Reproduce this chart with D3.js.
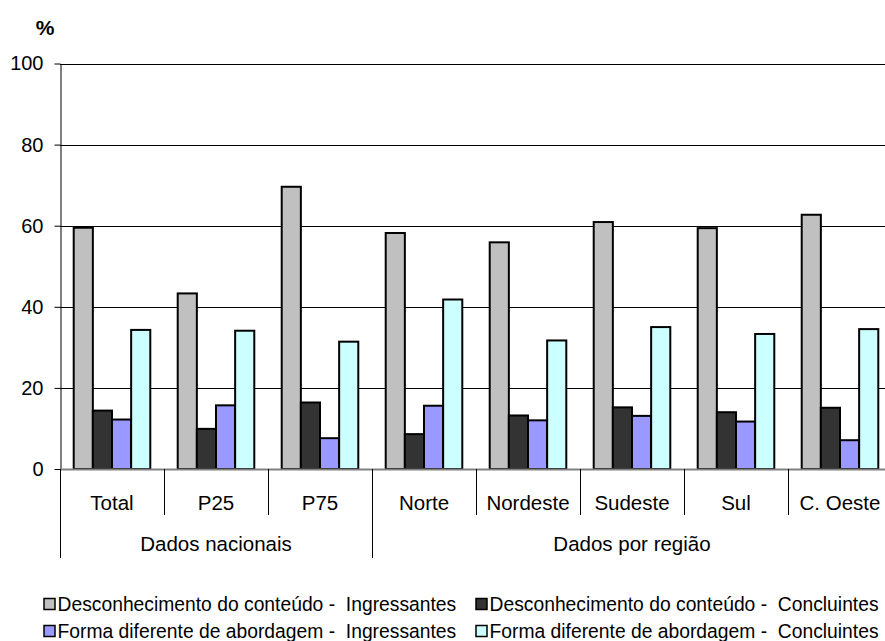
<!DOCTYPE html>
<html><head><meta charset="utf-8">
<script src="https://cdn.jsdelivr.net/npm/d3@7"></script>
<style>
html,body{margin:0;padding:0;background:#fff;overflow:hidden;}
svg{display:block;font-family:"Liberation Sans",Arial,sans-serif;}
</style></head>
<body>
<svg id="chart" width="885" height="641"></svg>
<script>
const categories = ["Total","P25","P75","Norte","Nordeste","Sudeste","Sul","C. Oeste"];
const groups = [
  {label:"Dados nacionais", from:0, to:3},
  {label:"Dados por região", from:3, to:8}
];
const seriesNames = [
  "Desconhecimento do conteúdo -  Ingressantes",
  "Desconhecimento do conteúdo -  Concluintes",
  "Forma diferente de abordagem -  Ingressantes",
  "Forma diferente de abordagem -  Concluintes"
];
const seriesColors = ["#C0C0C0","#333333","#9999FF","#CCFFFF"];
const descIngressantes = [59.5, 43.3, 69.6, 58.2, 55.9, 60.9, 59.4, 62.7];
const descConcluintes  = [14.4,  9.9, 16.4,  8.6, 13.2, 15.2, 14.0, 15.1];
const formaIngressantes= [12.2, 15.7,  7.6, 15.6, 12.0, 13.1, 11.7,  7.1];
const formaConcluintes = [34.3, 34.1, 31.4, 41.8, 31.7, 35.0, 33.3, 34.5];
const yTicks = [0,20,40,60,80,100];

const seriesValues = [descIngressantes, descConcluintes, formaIngressantes, formaConcluintes];

const svg = d3.select("#chart");
const pLeft = 60, pRight = 892, pTop = 63.5, pBottom = 469;

const x0 = d3.scaleBand().domain(categories).range([pLeft, pRight]).paddingInner(0).paddingOuter(0);
const x1 = d3.scaleBand().domain(d3.range(seriesNames.length)).range([0, x0.bandwidth()]).paddingInner(0).paddingOuter(0.716);
const y = d3.scaleLinear().domain([0,100]).range([pBottom, pTop]);

// gridlines
svg.append("g").selectAll("line").data(yTicks.filter(d=>d>0)).join("line")
  .attr("x1", pLeft).attr("x2", pRight)
  .attr("y1", d=>Math.round(y(d))+0.5).attr("y2", d=>Math.round(y(d))+0.5)
  .attr("stroke","#000").attr("stroke-width",1);

// y axis
const yAxis = svg.append("g").attr("transform",`translate(${pLeft+0.5},0)`)
  .call(d3.axisLeft(y).tickValues(yTicks).tickSize(6).tickPadding(11).tickSizeOuter(0));
yAxis.select(".domain").attr("stroke","#000");
yAxis.selectAll(".tick line").attr("stroke","#000");
yAxis.selectAll(".tick text").attr("font-size","20px").attr("fill","#000")
  .attr("font-family","'Liberation Sans',Arial,sans-serif");

// bars
const g = svg.append("g");
categories.forEach((c, ci) => {
  seriesValues.forEach((vals, si) => {
    g.append("rect")
      .attr("x", x0(c) + x1(si))
      .attr("y", y(vals[ci]))
      .attr("width", x1.bandwidth())
      .attr("height", y(0) - y(vals[ci]))
      .attr("fill", seriesColors[si])
      .attr("stroke","#000").attr("stroke-width",2);
  });
});

// x axis line
svg.append("line").attr("x1",pLeft).attr("x2",pRight).attr("y1",y(0)+0.5).attr("y2",y(0)+0.5)
  .attr("stroke","#808080").attr("stroke-width",2);

// category separators and labels
const catBoundaries = d3.range(categories.length+1).map(i => pLeft + i*x0.step());
const groupBoundaryIdx = new Set(groups.flatMap(gr=>[gr.from, gr.to]));
svg.append("g").selectAll("line").data(catBoundaries).join("line")
  .attr("x1", d=>Math.round(d)+0.5).attr("x2", d=>Math.round(d)+0.5)
  .attr("y1", pBottom).attr("y2", (d,i)=> groupBoundaryIdx.has(i) ? 558 : 515)
  .attr("stroke","#000").attr("stroke-width",1);

svg.append("g").selectAll("text").data(categories).join("text")
  .attr("x", d=>x0(d)+x0.bandwidth()/2).attr("y", 509.5)
  .attr("text-anchor","middle").attr("font-size","20.5px").attr("fill","#000")
  .text(d=>d);

svg.append("g").selectAll("text").data(groups).join("text")
  .attr("x", d=>(catBoundaries[d.from]+catBoundaries[d.to])/2).attr("y", 550.5)
  .attr("text-anchor","middle").attr("font-size","20.5px").attr("fill","#000")
  .text(d=>d.label);

// % label
svg.append("text").attr("x",45).attr("y",35).attr("text-anchor","middle")
  .attr("font-size","21px").attr("font-weight","bold").text("%");

// legend
const legendPos = [[44,604],[476,604],[44,631],[476,631]];
seriesNames.forEach((name, i) => {
  const [lx, ly] = legendPos[i];
  svg.append("rect").attr("x",lx).attr("y",ly-5.5).attr("width",11).attr("height",11)
    .attr("fill",seriesColors[i]).attr("stroke","#000").attr("stroke-width",1.5);
  svg.append("text").attr("x",lx+13.5).attr("y",ly+7).attr("font-size","19.3px")
    .attr("fill","#000").style("white-space","pre").text(name);
});
</script>
</body></html>
